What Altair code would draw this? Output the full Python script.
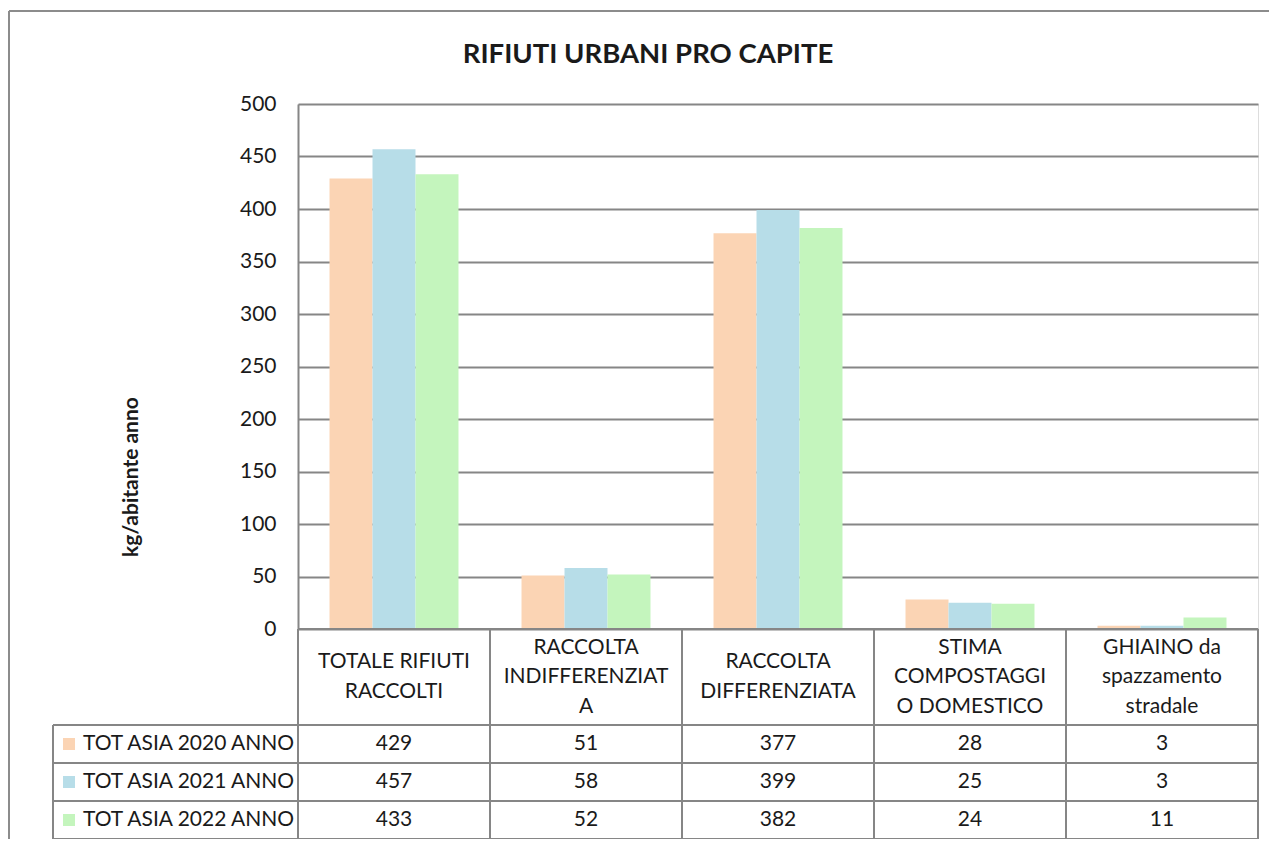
import altair as alt
import pandas as pd

# ---------------- data ----------------
title_text = "RIFIUTI URBANI PRO CAPITE"
y_title = "kg/abitante anno"
series = ["TOT ASIA 2020 ANNO", "TOT ASIA 2021 ANNO", "TOT ASIA 2022 ANNO"]
categories = [
    "TOTALE RIFIUTI RACCOLTI",
    "RACCOLTA INDIFFERENZIATA",
    "RACCOLTA DIFFERENZIATA",
    "STIMA COMPOSTAGGIO DOMESTICO",
    "GHIAINO da spazzamento stradale",
]
category_labels = [
    "TOTALE RIFIUTI|RACCOLTI",
    "RACCOLTA|INDIFFERENZIAT|A",
    "RACCOLTA|DIFFERENZIATA",
    "STIMA|COMPOSTAGGI|O DOMESTICO",
    "GHIAINO da|spazzamento|stradale",
]
values_2020 = [429, 51, 377, 28, 3]
values_2021 = [457, 58, 399, 25, 3]
values_2022 = [433, 52, 382, 24, 11]
y_ticks = [0, 50, 100, 150, 200, 250, 300, 350, 400, 450, 500]

# ---------------- style / layout ----------------
colors = ["#FBD4B4", "#B7DDE8", "#C4F5BD"]
GRID = "#868686"
TXT = "#1a1a1a"
FONT = "Lato"
FS = 21
LH = 29.5
W, H = 960, 525
ROW_Y = [640, 678, 716]        # table row centres (relative to plot top)
HEAD_Y = 573                   # centre of category header cell
TABLE_TOP, TABLE_BOTTOM = 621, 735
LEG_LEFT = -245

rows = []
for s, vals in zip(series, [values_2020, values_2021, values_2022]):
    for c, v in zip(categories, vals):
        rows.append({"cat": c, "series": s, "value": v})
df = pd.DataFrame(rows)
cat_df = pd.DataFrame({"cat": categories, "label": category_labels})
cat_df["n"] = cat_df["label"].str.count(r"\|") + 1
ser_df = pd.DataFrame({"series": series})
one = pd.DataFrame({"t": [title_text], "yt": [y_title]})

x_scale = alt.Scale(paddingInner=0, paddingOuter=0)
color_enc = alt.Color("series:N", sort=series,
                      scale=alt.Scale(domain=series, range=colors), legend=None)


def xenc(**kw):
    return alt.X("cat:N", sort=categories, scale=x_scale, axis=None, **kw)


bars = alt.Chart(df).mark_bar().encode(
    x=xenc(),
    xOffset=alt.XOffset("series:N", sort=series,
                        scale=alt.Scale(paddingInner=0, paddingOuter=0.733)),
    y=alt.Y("value:Q", scale=alt.Scale(domain=[0, 500], nice=False),
            axis=alt.Axis(values=y_ticks, title=None, grid=True, gridColor=GRID,
                          gridWidth=2, domainColor=GRID, domainWidth=2,
                          ticks=False, tickSize=0, labelPadding=22,
                          labelFontSize=FS, labelColor=TXT, labelFont=FONT)),
    color=color_enc,
)

# table grid lines
hlines = []
for yy in [TABLE_TOP, ROW_Y[0] + 19, ROW_Y[1] + 19, TABLE_BOTTOM]:
    hlines.append(
        alt.Chart(one).mark_rule(color=GRID, strokeWidth=2).encode(
            x=alt.value(LEG_LEFT), x2=alt.value(W), y=alt.value(yy))
    )
top_line = alt.Chart(one).mark_rule(color=GRID, strokeWidth=2).encode(
    x=alt.value(0), x2=alt.value(W), y=alt.value(H))
vlines = alt.Chart(cat_df).mark_rule(color=GRID, strokeWidth=2).encode(
    x=xenc(bandPosition=0), y=alt.value(H), y2=alt.value(TABLE_BOTTOM))
right_line = alt.Chart(one).mark_rule(color=GRID, strokeWidth=2).encode(
    x=alt.value(W), y=alt.value(H), y2=alt.value(TABLE_BOTTOM))
leg_line = alt.Chart(one).mark_rule(color=GRID, strokeWidth=2).encode(
    x=alt.value(LEG_LEFT), y=alt.value(TABLE_TOP), y2=alt.value(TABLE_BOTTOM))

# category header text (multi-line, vertically centred per line count)
head_layers = []
for n in sorted(cat_df["n"].unique()):
    sub = cat_df[cat_df["n"] == n]
    head_layers.append(
        alt.Chart(sub).mark_text(
            lineBreak="|", lineHeight=LH, fontSize=FS, font=FONT, color=TXT,
            baseline="middle", align="center").encode(
            x=xenc(), y=alt.value(HEAD_Y - (int(n) - 1) * LH / 2), text="label:N")
    )

# value rows + legend keys
value_layers = []
for s, yy in zip(series, ROW_Y):
    sub = df[df["series"] == s]
    value_layers.append(
        alt.Chart(sub).mark_text(fontSize=FS, font=FONT, color=TXT,
                                 baseline="middle", align="center").encode(
            x=xenc(), y=alt.value(yy), text="value:Q")
    )
    sdf = ser_df[ser_df["series"] == s]
    value_layers.append(
        alt.Chart(sdf).mark_square(size=144, opacity=1).encode(
            x=alt.value(-229), y=alt.value(yy), color=color_enc)
    )
    value_layers.append(
        alt.Chart(sdf).mark_text(fontSize=FS, font=FONT, color=TXT,
                                 baseline="middle", align="left").encode(
            x=alt.value(-215), y=alt.value(yy), text="series:N")
    )

title = alt.Chart(one).mark_text(fontSize=27.5, font=FONT, fontWeight="bold",
                                 color=TXT, baseline="middle", align="center").encode(
    x=alt.value(350), y=alt.value(-49), text="t:N")
ytitle = alt.Chart(one).mark_text(fontSize=FS, font=FONT, fontWeight="bold",
                                  color=TXT, baseline="middle", align="center",
                                  angle=270).encode(
    x=alt.value(-166), y=alt.value(373), text="yt:N")

# outer chart border (right and bottom edges lie outside the picture)
border_top = alt.Chart(one).mark_rule(color="#8c8c8c", strokeWidth=2).encode(
    x=alt.value(-289), x2=alt.value(W + 11), y=alt.value(-93))
border_left = alt.Chart(one).mark_rule(color="#8c8c8c", strokeWidth=2).encode(
    x=alt.value(-289), y=alt.value(-93), y2=alt.value(TABLE_BOTTOM + 96))

chart = alt.layer(
    bars, top_line, *hlines, vlines, right_line, leg_line, *head_layers,
    *value_layers, title, ytitle, border_top, border_left,
).properties(
    width=W, height=H,
    padding={"left": 290, "top": 96, "right": 11, "bottom": 210},
    autosize=alt.AutoSizeParams(type="none"),
).configure_view(stroke=None).configure(font=FONT, background="white")

chart.save("out.html", embed_options={"renderer": "svg", "actions": False})
